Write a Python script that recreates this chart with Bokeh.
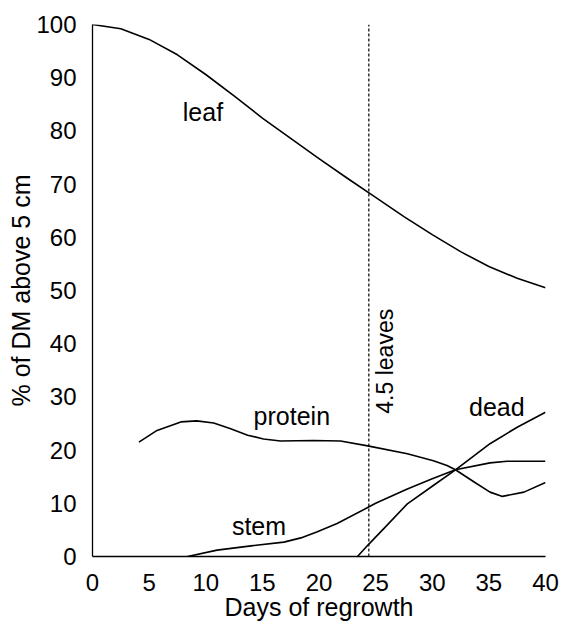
from bokeh.plotting import figure
from bokeh.models import Range1d, FixedTicker
from bokeh.core.properties import value
from bokeh.embed import file_html
from bokeh.resources import INLINE
import math

# ---- data ----
x_ticks = [0, 5, 10, 15, 20, 25, 30, 35, 40]
y_ticks = [0, 10, 20, 30, 40, 50, 60, 70, 80, 90, 100]

leaf_x = [0, 2.5, 5, 7.5, 10, 12.5, 15, 17.5, 20, 22.5, 25, 27.5, 30, 32.5, 35, 37.5, 40]
leaf_y = [100, 99.2, 97.2, 94.3, 90.6, 86.6, 82.4, 78.6, 74.8, 71.1, 67.5, 63.9, 60.5, 57.3, 54.5, 52.3, 50.5]

protein_x = [4.1, 5.7, 7.8, 9.2, 10.7, 12.2, 13.7, 15.1, 16.6, 19.5, 21.9, 24.3, 27.8, 30.1, 31.3, 32.05, 33.7, 35.1, 36.2, 38.1, 40]
protein_y = [21.5, 23.7, 25.3, 25.5, 25.1, 24.0, 22.8, 22.1, 21.7, 21.8, 21.7, 20.8, 19.3, 18.0, 17.1, 16.3, 14.0, 12.1, 11.3, 12.1, 13.9]

stem_x = [8.4, 11, 14, 16.9, 18.4, 19.8, 21.6, 24.3, 25, 27.8, 30, 32.05, 35.1, 36.6, 40]
stem_y = [0, 1.2, 2.0, 2.7, 3.5, 4.6, 6.2, 9.2, 10.0, 12.7, 14.6, 16.3, 17.6, 17.9, 17.9]

dead_x = [23.4, 24.3, 25.7, 27.8, 30, 32.05, 35.1, 37.5, 40]
dead_y = [0, 2.1, 5.2, 9.9, 13.2, 16.3, 21.2, 24.3, 27.1]

marker_day = 24.4
marker_text = "4.5 leaves"

label_names = ["leaf", "protein", "stem", "dead"]
label_x = [9.75, 17.6, 14.7, 35.7]
label_y = [83.5, 26.5, 5.8, 28.1]

FONT = "Liberation Sans"

p = figure(width=560, height=623,
           x_range=Range1d(0, 40), y_range=Range1d(0, 100),
           output_backend="svg", toolbar_location=None,
           min_border_left=92, min_border_right=15,
           min_border_top=24, min_border_bottom=0,
           x_axis_label="Days of regrowth", y_axis_label="% of DM above 5 cm")

p.outline_line_color = None
p.xgrid.grid_line_color = None
p.ygrid.grid_line_color = None

for ax in (p.xaxis[0], p.yaxis[0]):
    ax.major_tick_line_color = None
    ax.minor_tick_line_color = None
    ax.axis_line_color = "black"
    ax.axis_line_width = 1.3
    ax.major_label_text_font = FONT
    ax.major_label_text_font_size = "24px"
    ax.major_label_text_color = "black"
    ax.axis_label_text_font = FONT
    ax.axis_label_text_font_size = "25px"
    ax.axis_label_text_font_style = "normal"
    ax.axis_label_text_color = "black"

p.xaxis.ticker = FixedTicker(ticks=x_ticks)
p.yaxis.ticker = FixedTicker(ticks=y_ticks)
p.xaxis.major_label_standoff = 11
p.xaxis.axis_label_standoff = -1
p.yaxis.major_label_standoff = 10
p.yaxis.axis_label_standoff = -2

for xs, ys in ((leaf_x, leaf_y), (protein_x, protein_y), (stem_x, stem_y), (dead_x, dead_y)):
    p.line(xs, ys, line_color="black", line_width=1.6, line_join="round")

p.line([marker_day, marker_day], [0, 100], line_color="black", line_width=1.2, line_dash="3 2")

p.text(x=label_x, y=label_y, text=label_names, text_font=value(FONT),
       text_font_size="25px", text_align="center", text_baseline="middle", text_color="black")

p.text(x=[25.8], y=[36.7], text=[marker_text], angle=math.pi / 2, text_font=value(FONT),
       text_font_size="23px", text_align="center", text_baseline="middle", text_color="black")

open("out.html", "w").write(file_html(p, INLINE))
